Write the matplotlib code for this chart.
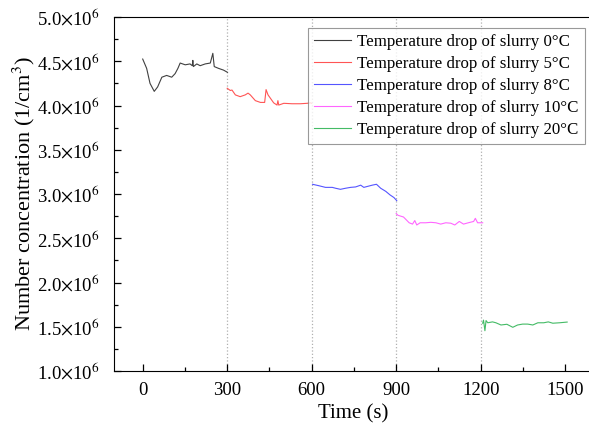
import matplotlib
matplotlib.use("Agg")
from matplotlib import pyplot as plt
from matplotlib.ticker import MultipleLocator, FuncFormatter

plt.rcParams['font.family'] = ['Liberation Serif', 'DejaVu Serif']
plt.rcParams['mathtext.fontset'] = 'stix'

# time (s) and number concentration (1/cm3) for each slurry temperature drop
t0 = [0, 14, 26, 41, 53, 68, 85, 103, 115, 125, 133, 151, 168, 176, 178, 180, 192, 204, 222, 240, 249, 254, 269, 287, 301]
n0 = [4.525, 4.42, 4.25, 4.16, 4.21, 4.32, 4.34, 4.32, 4.36, 4.42, 4.48, 4.46, 4.47, 4.45, 4.51, 4.44, 4.47, 4.45, 4.47, 4.48, 4.59, 4.44, 4.42, 4.40, 4.375]

t5 = [300, 311, 317, 329, 346, 364, 374, 382, 400, 418, 433, 438, 445, 465, 477, 480, 483, 501, 530, 560, 584, 596, 600]
n5 = [4.195, 4.17, 4.175, 4.12, 4.10, 4.12, 4.14, 4.12, 4.055, 4.035, 4.035, 4.18, 4.12, 4.03, 4.005, 4.055, 4.005, 4.025, 4.02, 4.02, 4.025, 4.03, 4.025]

t8 = [603, 625, 649, 673, 685, 702, 720, 738, 756, 774, 785, 803, 815, 830, 845, 863, 878, 892, 902]
n8 = [3.11, 3.094, 3.075, 3.075, 3.065, 3.053, 3.065, 3.075, 3.08, 3.10, 3.075, 3.09, 3.10, 3.11, 3.065, 3.03, 2.99, 2.96, 2.925]

t10 = [900, 906, 926, 946, 958, 966, 973, 985, 1005, 1023, 1041, 1058, 1076, 1094, 1108, 1124, 1139, 1156, 1175, 1181, 1189, 1207]
n10 = [2.78, 2.76, 2.74, 2.675, 2.66, 2.70, 2.65, 2.675, 2.675, 2.68, 2.675, 2.66, 2.675, 2.67, 2.65, 2.69, 2.66, 2.675, 2.69, 2.725, 2.675, 2.675]

t20 = [1207, 1210, 1215, 1219, 1225, 1242, 1254, 1272, 1293, 1314, 1331, 1349, 1367, 1385, 1403, 1424, 1440, 1456, 1480, 1507]
n20 = [1.54, 1.575, 1.455, 1.57, 1.545, 1.555, 1.545, 1.52, 1.528, 1.494, 1.52, 1.53, 1.53, 1.52, 1.545, 1.545, 1.555, 1.54, 1.545, 1.553]

labels = ['Temperature drop of slurry 0°C', 'Temperature drop of slurry 5°C',
          'Temperature drop of slurry 8°C', 'Temperature drop of slurry 10°C',
          'Temperature drop of slurry 20°C']
colors = ['#404040', '#ff5555', '#5555ff', '#ff66ff', '#44bb66']
series = [(t0, n0), (t5, n5), (t8, n8), (t10, n10), (t20, n20)]
switch_times = [300, 600, 900, 1200]

fig = plt.figure(figsize=(5.89, 4.32), dpi=100)
ax = fig.add_axes([0.1935, 0.1412, 0.8115, 0.8194])

for x in switch_times:
    ax.axvline(x, color='#b0b0b0', linestyle=':', linewidth=0.9, zorder=0)

for (t, n), c, lab in zip(series, colors, labels):
    ax.plot(t, [v * 1e6 for v in n], color=c, linewidth=0.8, label=lab)

ax.set_xlim(-102, 1595)
ax.set_ylim(1.0e6, 5.0e6)
ax.xaxis.set_major_locator(MultipleLocator(300))
ax.xaxis.set_minor_locator(MultipleLocator(150))
ax.yaxis.set_major_locator(MultipleLocator(0.5e6))
ax.yaxis.set_minor_locator(MultipleLocator(0.25e6))
ax.yaxis.set_major_formatter(FuncFormatter(lambda v, p: '%.1f$\\times$10$^{6}$' % (v / 1e6)))
ax.tick_params(which='both', direction='in', labelsize=13.5)
ax.tick_params(which='major', length=5, width=0.9)
ax.tick_params(which='minor', length=3, width=0.9)
ax.tick_params(axis='x', pad=8)
ax.tick_params(axis='y', pad=10)

ax.set_xlabel('Time (s)', fontsize=15)
ax.set_ylabel('Number concentration (1/cm$^{3}$)', fontsize=16, labelpad=0)

leg = ax.legend(loc='upper right', bbox_to_anchor=(0.985, 0.969), fontsize=12.2,
                fancybox=False, edgecolor='#808080', handlelength=2.2,
                borderpad=0.35, labelspacing=0.36, handletextpad=0.35, borderaxespad=0)
leg.get_frame().set_linewidth(0.8)

plt.savefig('out.png', dpi=100)
